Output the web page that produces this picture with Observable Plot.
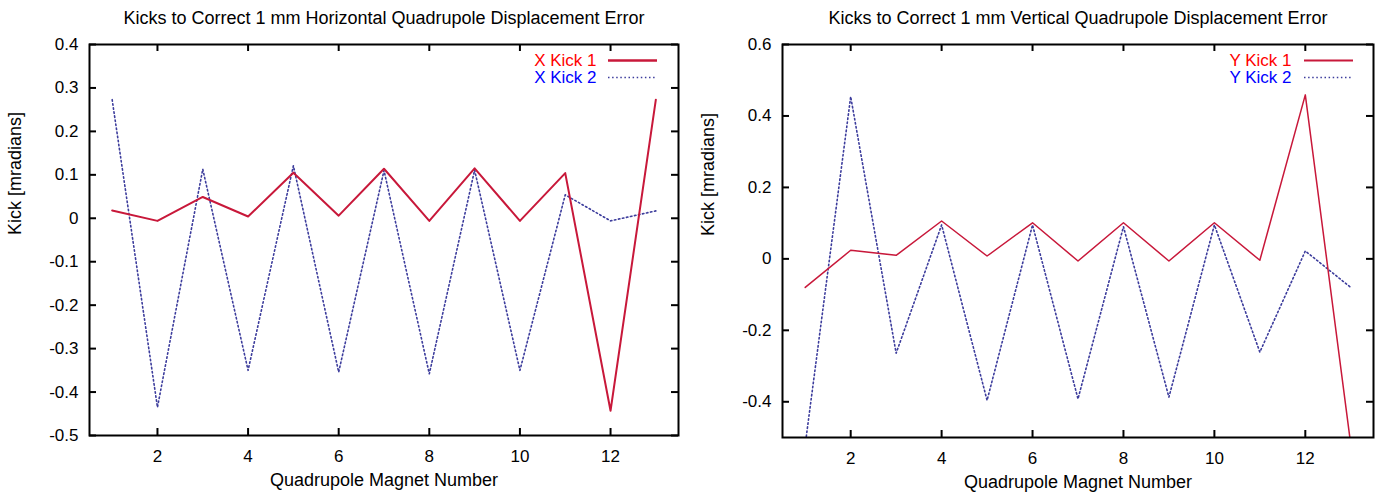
<!DOCTYPE html>
<html>
<head>
<meta charset="utf-8">
<script src="https://cdn.jsdelivr.net/npm/d3@7"></script>
<script src="https://cdn.jsdelivr.net/npm/@observablehq/plot@0.6"></script>
<style>
  html, body { margin: 0; padding: 0; background: #fff; }
  #wrap { display: flex; flex-direction: row; width: 1375px; height: 493px; }
  #wrap svg { display: block; }
</style>
</head>
<body>
<div id="wrap"></div>
<script>
// ---- data ----
const quads = [1, 2, 3, 4, 5, 6, 7, 8, 9, 10, 11, 12, 13];
const xKick1 = [0.018, -0.006, 0.049, 0.004, 0.105, 0.006, 0.114, -0.006, 0.115, -0.006, 0.104, -0.443, 0.273];
const xKick2 = [0.273, -0.435, 0.113, -0.350, 0.121, -0.354, 0.110, -0.358, 0.111, -0.350, 0.054, -0.006, 0.017];
const yKick1 = [-0.080, 0.024, 0.010, 0.106, 0.008, 0.101, -0.006, 0.101, -0.006, 0.101, -0.004, 0.459, -0.52];
const yKick2 = [-0.52, 0.454, -0.264, 0.095, -0.396, 0.095, -0.392, 0.090, -0.387, 0.095, -0.261, 0.022, -0.080];
const xTicks = [2, 4, 6, 8, 10, 12];
const leftYTicks = [-0.5, -0.4, -0.3, -0.2, -0.1, 0, 0.1, 0.2, 0.3, 0.4];
const rightYTicks = [-0.4, -0.2, 0, 0.2, 0.4, 0.6];
const xDomain = [0.5, 13.5];
const leftYDomain = [-0.5, 0.4];
const rightYDomain = [-0.5, 0.6];
const leftTitle = "Kicks to Correct 1 mm Horizontal Quadrupole Displacement Error";
const rightTitle = "Kicks to Correct 1 mm Vertical Quadrupole Displacement Error";
const xLabel = "Quadrupole Magnet Number";
const yLabel = "Kick [mradians]";
const leftSeries = ["X Kick 1", "X Kick 2"];
const rightSeries = ["Y Kick 1", "Y Kick 2"];

const lineRed = "#c8183a";
const lineBlue = "#3c3c9c";
const fmt = d => String(+(+d).toFixed(1));
const TICK = 7;

function panel({width, marginLeft, marginRight, marginTop, marginBottom, yDomain, yTicks, s1, s2, names, title, redWidth, legendInsetLeft, legendInsetRight}) {
  const height = 493;
  const fw = width - marginLeft - marginRight;
  const fh = height - marginTop - marginBottom;
  const rows1 = quads.map((q, i) => ({q, v: s1[i]}));
  const rows2 = quads.map((q, i) => ({q, v: s2[i]}));
  const top = yDomain[1];
  const tk = {stroke: "#000", strokeWidth: 2};
  return Plot.plot({
    width, height,
    marginLeft, marginRight, marginTop, marginBottom,
    style: {fontFamily: "'Liberation Sans', Arial, sans-serif", fontSize: "17px", color: "#000", background: "#fff", overflow: "visible"},
    x: {domain: xDomain, nice: false, label: null},
    y: {domain: yDomain, nice: false, label: null},
    marks: [
      // data lines
      Plot.line(rows2, {x: "q", y: "v", stroke: lineBlue, strokeWidth: 1.6, strokeDasharray: "1.5,2.6", clip: true}),
      Plot.line(rows1, {x: "q", y: "v", stroke: lineRed, strokeWidth: redWidth, clip: true}),
      // tick labels (tick lines drawn separately, inward)
      Plot.axisX(xTicks, {anchor: "bottom", tickSize: 0, tickPadding: 14, tickFormat: fmt, label: null, fontSize: 17}),
      Plot.axisY(yTicks, {anchor: "left", tickSize: 0, tickPadding: 11, tickFormat: fmt, label: null, fontSize: 17}),
      Plot.frame({stroke: "#000", strokeWidth: 2}),
      // inward ticks on all four sides (gnuplot mirror style)
      Plot.ruleX(xTicks, {insetTop: fh - TICK, ...tk}),
      Plot.ruleX(xTicks, {insetBottom: fh - TICK, ...tk}),
      Plot.ruleY(yTicks, {insetRight: fw - TICK, ...tk}),
      Plot.ruleY(yTicks, {insetLeft: fw - TICK, ...tk}),
      // axis labels and title
      Plot.text([xLabel], {frameAnchor: "bottom", lineAnchor: "middle", dy: 45, text: d => d, fontSize: 18}),
      Plot.text([yLabel], {frameAnchor: "left", lineAnchor: "middle", dx: -74, dy: -5, rotate: -90, text: d => d, fontSize: 18}),
      Plot.text([title], {frameAnchor: "top", lineAnchor: "middle", dy: -26, text: d => d, fontSize: 18}),
      // legend
      Plot.text([names[0]], {frameAnchor: "top-right", lineAnchor: "middle", dx: -82, dy: 16, textAnchor: "end", text: d => d, fill: "#ff0000", fontSize: 17}),
      Plot.text([names[1]], {frameAnchor: "top-right", lineAnchor: "middle", dx: -82, dy: 33, textAnchor: "end", text: d => d, fill: "#0000ff", fontSize: 17}),
      Plot.ruleY([top], {dy: 16, insetLeft: legendInsetLeft, insetRight: legendInsetRight, stroke: lineRed, strokeWidth: redWidth + 0.3}),
      Plot.ruleY([top], {dy: 33, insetLeft: legendInsetLeft, insetRight: legendInsetRight, stroke: lineBlue, strokeWidth: 1.6, strokeDasharray: "1.5,2.6"})
    ]
  });
}

const wrap = document.getElementById("wrap");
wrap.append(panel({
  width: 687, marginLeft: 89, marginRight: 9, marginTop: 44, marginBottom: 58,
  yDomain: leftYDomain, yTicks: leftYTicks, s1: xKick1, s2: xKick2, names: leftSeries,
  title: leftTitle, redWidth: 2, legendInsetLeft: 519, legendInsetRight: 21
}));
wrap.append(panel({
  width: 688, marginLeft: 95, marginRight: 2, marginTop: 44, marginBottom: 56,
  yDomain: rightYDomain, yTicks: rightYTicks, s1: yKick1, s2: yKick2, names: rightSeries,
  title: rightTitle, redWidth: 1.5, legendInsetLeft: 522, legendInsetRight: 20
}));
</script>
</body>
</html>
